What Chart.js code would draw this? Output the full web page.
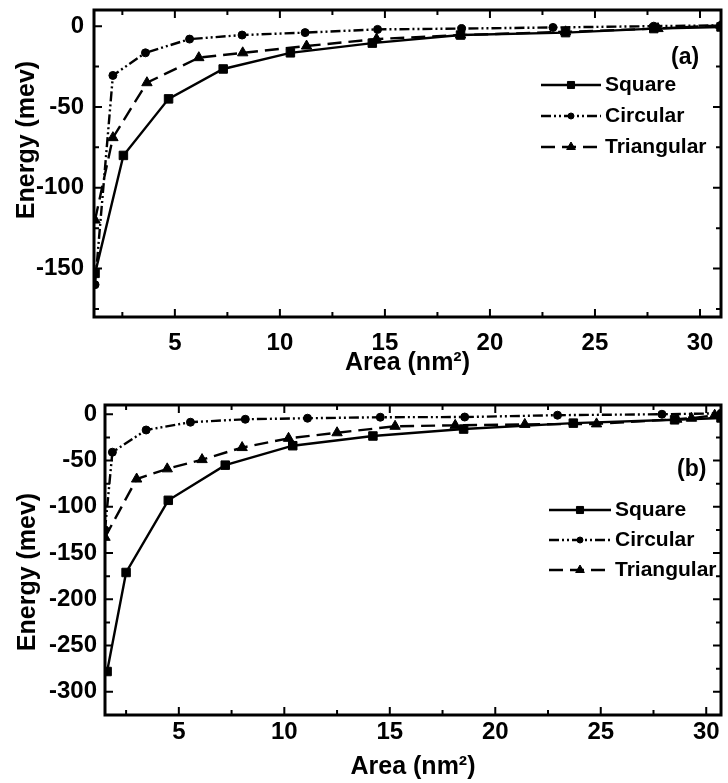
<!DOCTYPE html>
<html>
<head>
<meta charset="utf-8">
<title>Energy vs Area</title>
<script src="https://cdn.jsdelivr.net/npm/chart.js@4.4.1/dist/chart.umd.min.js"></script>
<style>
  body { margin: 0; background: #fff; }
  #wrap { position: relative; width: 728px; height: 783px; }
  canvas { position: absolute; left: 0; }
  #chartA { top: 0; }
  #chartB { top: 380px; }
</style>
</head>
<body>
<div id="wrap">
  <canvas id="chartA" width="728" height="380"></canvas>
  <canvas id="chartB" width="728" height="403"></canvas>
</div>
<script>
// panel (a)
const aSquareX = [1.2, 2.55, 4.7, 7.3, 10.5, 14.4, 18.6, 23.6, 27.8, 31.0];
const aSquareY = [-153, -80, -45, -26.5, -16.5, -10.5, -5.5, -4, -1.5, -0.5];
const aCircX = [1.2, 2.05, 3.6, 5.7, 8.2, 11.2, 14.65, 18.65, 23.0, 27.8, 31.0];
const aCircY = [-160, -30.5, -16.5, -8, -5.5, -4, -2, -1.5, -0.8, 0, 0.5];
const aTriX = [1.2, 2.05, 3.67, 6.14, 8.23, 11.27, 14.6, 18.6, 23.6, 28.0, 31.0];
const aTriY = [-120, -69, -35, -19.5, -16.5, -12.3, -8, -5.5, -3.5, -1.5, 0.5];

// panel (b)
const bSquareX = [1.6, 2.5, 4.5, 7.2, 10.4, 14.2, 18.5, 23.7, 28.5, 30.7];
const bSquareY = [-278, -171, -93, -55, -34, -23.5, -16, -9.6, -6, -4];
const bCircX = [1.5, 1.85, 3.45, 5.55, 8.15, 11.1, 14.55, 18.55, 22.95, 27.9, 30.7];
const bCircY = [-125, -41, -17, -8.6, -5.4, -4.3, -3.2, -3, -1, 0, 1];
const bTriX = [1.5, 3.0, 4.45, 6.1, 8.0, 10.2, 12.5, 15.25, 18.1, 21.4, 24.8, 28.6, 29.3, 30.4];
const bTriY = [-133, -70, -59, -49, -36, -26, -20, -13, -12, -11, -10.4, -5.4, -4.3, -1];

const seriesNames = ['Square', 'Circular', 'Triangular'];

const xMajor = [5, 10, 15, 20, 25, 30];
const xMinor = [2.5, 7.5, 12.5, 17.5, 22.5, 27.5];
const aYMajor = [0, -50, -100, -150];
const aYMinor = [-25, -75, -125, -175];
const bYMajor = [0, -50, -100, -150, -200, -250, -300];
const bYMinor = [-25, -75, -125, -175, -225, -275, -325];

const FONT = '"Liberation Sans", Arial, Helvetica, sans-serif';
Chart.defaults.font.family = FONT;
Chart.defaults.color = '#000';

const pts = (xs, ys) => xs.map((x, i) => ({ x: x, y: ys[i] }));

function makeSets(sx, sy, cx, cy, tx, ty) {
  const base = { showLine: true, borderColor: '#000', backgroundColor: '#000', pointBorderColor: '#000', pointBackgroundColor: '#000', pointBorderWidth: 1 };
  return [
    Object.assign({}, base, { label: seriesNames[0], data: pts(sx, sy), borderWidth: 2.4, borderDash: [], pointStyle: 'rect', pointRadius: 6 }),
    Object.assign({}, base, { label: seriesNames[1], data: pts(cx, cy), borderWidth: 2.4, borderDash: [10, 3, 2, 3, 2, 3], pointStyle: 'circle', pointRadius: 4 }),
    Object.assign({}, base, { label: seriesNames[2], data: pts(tx, ty), borderWidth: 2.4, borderDash: [14, 7], pointStyle: 'triangle', pointRadius: 6 })
  ];
}

// frame with inward ticks on all four sides, plus the y title
const framePlugin = {
  id: 'frame',
  afterDatasetsDraw(chart, args, o) {
    const { ctx, chartArea: a, scales: { x, y } } = chart;
    ctx.save();
    ctx.strokeStyle = '#000';
    ctx.setLineDash([]);
    ctx.lineWidth = 2;
    const xt = (vals, len) => vals.forEach(v => {
      const px = x.getPixelForValue(v);
      ctx.beginPath();
      ctx.moveTo(px, a.bottom); ctx.lineTo(px, a.bottom - len);
      ctx.moveTo(px, a.top); ctx.lineTo(px, a.top + len);
      ctx.stroke();
    });
    const yt = (vals, len) => vals.forEach(v => {
      const py = y.getPixelForValue(v);
      if (py < a.top || py > a.bottom) return;
      ctx.beginPath();
      ctx.moveTo(a.left, py); ctx.lineTo(a.left + len, py);
      ctx.moveTo(a.right, py); ctx.lineTo(a.right - len, py);
      ctx.stroke();
    });
    xt(o.xMajor, 8); xt(o.xMinor, 5);
    yt(o.yMajor, 8); yt(o.yMinor, 5);
    ctx.lineWidth = 3;
    ctx.strokeRect(a.left, a.top, a.width, a.height);

    // y axis title, placed where the original has it
    ctx.translate(o.titleX, o.titleY);
    ctx.rotate(-Math.PI / 2);
    ctx.font = 'bold 25px ' + FONT;
    ctx.fillStyle = '#000';
    ctx.textAlign = 'center';
    ctx.textBaseline = 'middle';
    ctx.fillText('Energy (mev)', 0, 0);
    ctx.restore();
  }
};

// legend and panel tag inside the plot
const keyPlugin = {
  id: 'key',
  afterDraw(chart, args, o) {
    const ctx = chart.ctx;
    ctx.save();
    ctx.fillStyle = '#000';
    ctx.strokeStyle = '#000';
    ctx.textBaseline = 'middle';
    ctx.textAlign = 'left';
    ctx.font = 'bold 23px ' + FONT;
    ctx.fillText(o.tag, o.tagX, o.tagY);
    ctx.font = 'bold 21px ' + FONT;
    chart.data.datasets.forEach((ds, i) => {
      const yy = o.y0 + i * o.dy;
      ctx.lineWidth = ds.borderWidth;
      ctx.setLineDash(ds.borderDash);
      ctx.beginPath();
      ctx.moveTo(o.x0, yy); ctx.lineTo(o.x1, yy);
      ctx.stroke();
      ctx.setLineDash([]);
      ctx.lineWidth = 1;
      Chart.helpers.drawPoint(ctx, { pointStyle: ds.pointStyle, radius: ds.pointRadius - 1, borderWidth: 1, rotation: 0 }, (o.x0 + o.x1) / 2, yy);
      ctx.fillText(ds.label, o.x1 + 4, yy);
    });
    ctx.restore();
  }
};

function makeChart(id, sets, xr, yr, yMajor, yMinor, yW, yPad, padding, xPad, xH, titleX, titleY, key) {
  return new Chart(document.getElementById(id), {
    type: 'scatter',
    data: { datasets: sets },
    plugins: [framePlugin, keyPlugin],
    options: {
      responsive: false,
      animation: false,
      layout: { padding: padding },
      plugins: {
        legend: { display: false },
        tooltip: { enabled: false },
        frame: { xMajor: xMajor, xMinor: xMinor, yMajor: yMajor, yMinor: yMinor, titleX: titleX, titleY: titleY },
        key: key
      },
      scales: {
        x: {
          type: 'linear', min: xr[0], max: xr[1],
          grid: { display: false, drawTicks: false },
          border: { display: false },
          afterBuildTicks: s => { s.ticks = xMajor.map(v => ({ value: v })); },
          afterFit: s => { s.height = xH; s.paddingLeft = 0; s.paddingRight = 0; },
          ticks: { padding: xPad, font: { size: 24, weight: 'bold', lineHeight: 1 }, callback: v => String(v), maxRotation: 0, autoSkip: false },
          title: { display: true, text: 'Area (nm²)', padding: 0, font: { size: 25, weight: 'bold', lineHeight: 1 } }
        },
        y: {
          type: 'linear', min: yr[0], max: yr[1],
          grid: { display: false, drawTicks: false },
          border: { display: false },
          afterBuildTicks: s => { s.ticks = yMajor.map(v => ({ value: v })); },
          afterFit: s => { s.width = yW; s.paddingTop = 0; s.paddingBottom = 0; },
          ticks: { padding: yPad, font: { size: 24, weight: 'bold' }, callback: v => String(v), autoSkip: false },
          title: { display: false }
        }
      }
    }
  });
}

makeChart('chartA', makeSets(aSquareX, aSquareY, aCircX, aCircY, aTriX, aTriY),
  [1.15, 31.0], [-180, 10], aYMajor, aYMinor, 94, 10,
  { top: 10, right: 6, bottom: 4.5, left: 0 }, 14, 58.5, 27, 140,
  { tag: '(a)', tagX: 671, tagY: 58, x0: 541, x1: 601, y0: 85, dy: 31 });

makeChart('chartB', makeSets(bSquareX, bSquareY, bCircX, bCircY, bTriX, bTriY),
  [1.5, 30.7], [-325, 10], bYMajor, bYMinor, 105, 8,
  { top: 25, right: 2, bottom: 3.5, left: 0 }, 5, 64.5, 28, 192,
  { tag: '(b)', tagX: 677, tagY: 90, x0: 549, x1: 611, y0: 130, dy: 30 });
</script>
</body>
</html>
